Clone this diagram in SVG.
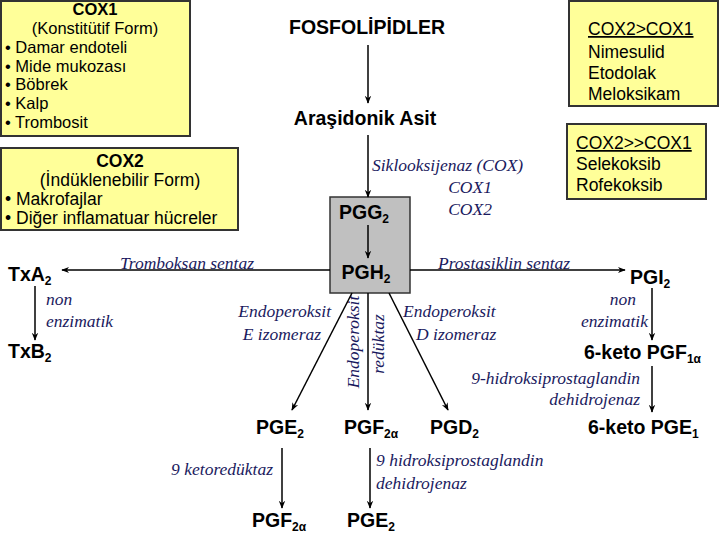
<svg xmlns="http://www.w3.org/2000/svg" width="720" height="540" viewBox="0 0 720 540">
<defs>
<marker id="ah" viewBox="0 0 10 10" refX="9" refY="5" markerWidth="8" markerHeight="8" orient="auto" markerUnits="userSpaceOnUse"><path d="M0,1 L10,5 L0,9 L3,5 Z" fill="#000"/></marker>
<style>
.box{fill:#ffff99;stroke:#333;stroke-width:2}
.bt{font-family:"Liberation Sans",Arial,sans-serif;font-size:17.5px;fill:#000}
.bb{font-family:"Liberation Sans",Arial,sans-serif;font-size:17.5px;font-weight:bold;fill:#000}
.sm{font-size:16.5px}
.m{font-family:"Liberation Sans",Arial,sans-serif;font-size:19.5px;font-weight:bold;fill:#000}
.e{font-family:"Liberation Serif","Times New Roman",serif;font-size:17.5px;font-style:italic;fill:#1a1a5e}
.c{stroke:#000;stroke-width:1.5;fill:none;marker-end:url(#ah)}
.s{font-size:12px}
</style>
</defs>
<g id="cox1"><rect class="box" x="1" y="1" width="189" height="135"/>
<text class="bb sm" x="95" y="15" text-anchor="middle">COX1</text>
<text class="bt sm" x="95" y="34" text-anchor="middle">(Konstitütif Form)</text>
<text class="bt sm" x="5" y="53">• Damar endoteli</text>
<text class="bt sm" x="5" y="72">• Mide mukozası</text>
<text class="bt sm" x="5" y="90">• Böbrek</text>
<text class="bt sm" x="5" y="109">• Kalp</text>
<text class="bt sm" x="5" y="128">• Trombosit</text></g>
<g id="cox2"><rect class="box" x="1" y="148" width="237" height="82"/>
<text class="bb" x="120" y="167" text-anchor="middle">COX2</text>
<text class="bt" x="120" y="186" text-anchor="middle">(İndüklenebilir Form)</text>
<text class="bt" x="5" y="205">• Makrofajlar</text>
<text class="bt" x="5" y="224">• Diğer inflamatuar hücreler</text></g>
<g id="cox2gt"><rect class="box" x="569" y="1" width="149" height="105"/>
<text class="bt" x="588" y="35" text-decoration="underline">COX2&gt;COX1</text>
<text class="bt" x="588" y="58">Nimesulid</text>
<text class="bt" x="588" y="79">Etodolak</text>
<text class="bt" x="588" y="100">Meloksikam</text></g>
<g id="cox2gtgt"><rect class="box" x="567" y="124" width="139" height="75"/>
<text class="bt" x="576" y="149" text-decoration="underline">COX2&gt;&gt;COX1</text>
<text class="bt" x="576" y="170">Selekoksib</text>
<text class="bt" x="576" y="191">Rofekoksib</text></g>
<g id="pgbox"><rect x="330" y="197" width="80" height="96" fill="#c0c0c0" stroke="#333" stroke-width="1.5"/>
<text class="m" x="364" y="219" text-anchor="middle">PGG<tspan class="s" dy="4">2</tspan></text>
<text class="m" x="366" y="279" text-anchor="middle">PGH<tspan class="s" dy="4">2</tspan></text></g>
<g id="nodes">
<text class="m" x="367" y="34" text-anchor="middle">FOSFOLİPİDLER</text>
<text class="m" x="365" y="125" text-anchor="middle">Araşidonik Asit</text>
<text class="m" x="8" y="281">TxA<tspan class="s" dy="4">2</tspan></text>
<text class="m" x="8" y="358">TxB<tspan class="s" dy="4">2</tspan></text>
<text class="m" x="630" y="284">PGI<tspan class="s" dy="4">2</tspan></text>
<text class="m" x="584" y="359">6-keto PGF<tspan class="s" dy="4">1α</tspan></text>
<text class="m" x="588" y="434">6-keto PGE<tspan class="s" dy="4">1</tspan></text>
<text class="m" x="256" y="434">PGE<tspan class="s" dy="4">2</tspan></text>
<text class="m" x="344" y="434">PGF<tspan class="s" dy="4">2α</tspan></text>
<text class="m" x="430" y="434">PGD<tspan class="s" dy="4">2</tspan></text>
<text class="m" x="252" y="527">PGF<tspan class="s" dy="4">2α</tspan></text>
<text class="m" x="347" y="527">PGE<tspan class="s" dy="4">2</tspan></text>
</g>
<g id="labels">
<text class="e" x="372" y="171">Siklooksijenaz (COX)</text>
<text class="e" x="470" y="193" text-anchor="middle">COX1</text>
<text class="e" x="470" y="215" text-anchor="middle">COX2</text>
<text class="e" x="120" y="269">Tromboksan sentaz</text>
<text class="e" x="438" y="269">Prostasiklin sentaz</text>
<text class="e" x="46" y="305">non</text>
<text class="e" x="46" y="327">enzimatik</text>
<text class="e" x="636" y="305" text-anchor="end">non</text>
<text class="e" x="648" y="327" text-anchor="end">enzimatik</text>
<text class="e" x="331" y="317" text-anchor="end">Endoperoksit</text>
<text class="e" x="321" y="340" text-anchor="end">E izomeraz</text>
<text class="e" x="403" y="317">Endoperoksit</text>
<text class="e" x="416" y="340">D izomeraz</text>
<text class="e" transform="translate(359,342) rotate(-90)" text-anchor="middle">Endoperoksit</text>
<text class="e" transform="translate(384,344) rotate(-90)" text-anchor="middle">redüktaz</text>
<text class="e" x="640" y="384" text-anchor="end">9-hidroksiprostaglandin</text>
<text class="e" x="640" y="405" text-anchor="end">dehidrojenaz</text>
<text class="e" x="273" y="475" text-anchor="end">9 ketoredüktaz</text>
<text class="e" x="376" y="466">9 hidroksiprostaglandin</text>
<text class="e" x="376" y="489">dehidrojenaz</text>
</g>
<g id="connectors">
<line class="c" x1="368" y1="45" x2="368" y2="103"/>
<line class="c" x1="368" y1="135" x2="368" y2="197"/>
<line class="c" x1="368" y1="225" x2="368" y2="258"/>
<line class="c" x1="330" y1="270" x2="62" y2="270"/>
<line class="c" x1="410" y1="270" x2="625" y2="270"/>
<line class="c" x1="35" y1="286" x2="35" y2="340"/>
<line class="c" x1="652" y1="288" x2="652" y2="340"/>
<line class="c" x1="652" y1="366" x2="652" y2="412"/>
<line class="c" x1="352" y1="293" x2="292" y2="410"/>
<line class="c" x1="368" y1="293" x2="368" y2="410"/>
<line class="c" x1="389" y1="293" x2="448" y2="410"/>
<line class="c" x1="282" y1="448" x2="282" y2="508" stroke-width="2.5"/>
<line class="c" x1="370" y1="448" x2="370" y2="508"/>
</g>
</svg>
